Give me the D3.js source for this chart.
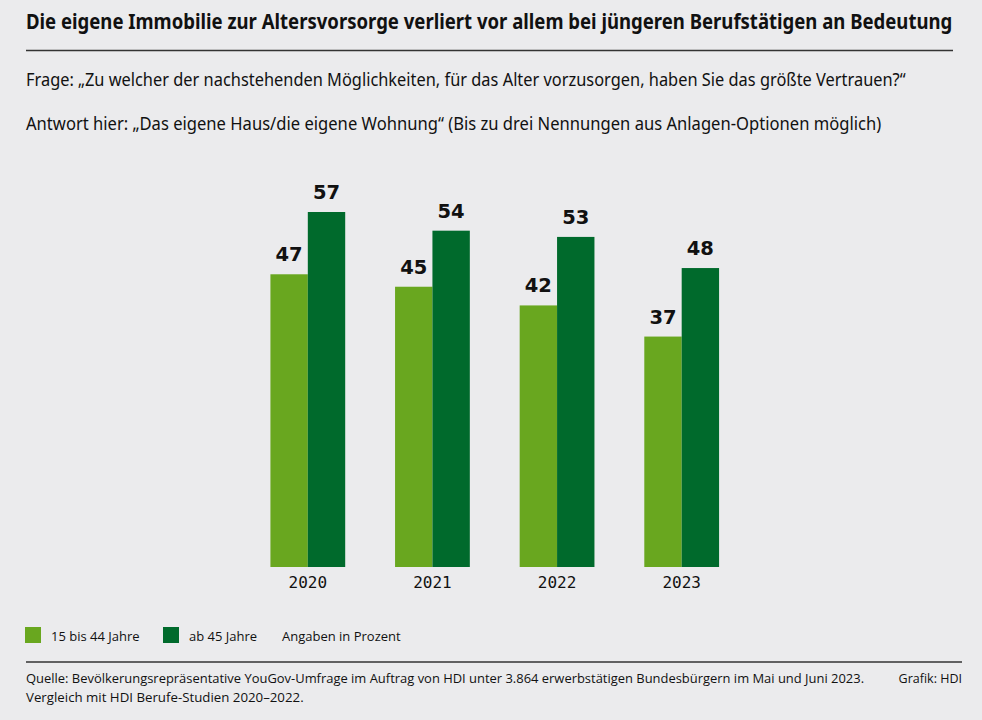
<!DOCTYPE html>
<html><head><meta charset="utf-8">
<script src="https://cdn.jsdelivr.net/npm/d3@7"></script>
<style>
html,body{margin:0;padding:0;background:#ebebed;}
svg{display:block;}
</style></head>
<body>
<script>
const years = ["2020","2021","2022","2023"];
const seriesNames = ["15 bis 44 Jahre","ab 45 Jahre"];
const young = [47,45,42,37];
const old = [57,54,53,48];
const colors = ["#69a71f","#006a2c"];
const title = "Die eigene Immobilie zur Altersvorsorge verliert vor allem bei jüngeren Berufstätigen an Bedeutung";
const question = "Frage: „Zu welcher der nachstehenden Möglichkeiten, für das Alter vorzusorgen, haben Sie das größte Vertrauen?“";
const answer = "Antwort hier: „Das eigene Haus/die eigene Wohnung“ (Bis zu drei Nennungen aus Anlagen-Optionen möglich)";
const note = "Angaben in Prozent";
const source1 = "Quelle: Bevölkerungsrepräsentative YouGov-Umfrage im Auftrag von HDI unter 3.864 erwerbstätigen Bundesbürgern im Mai und Juni 2023.";
const source2 = "Vergleich mit HDI Berufe-Studien 2020–2022.";
const credit = "Grafik: HDI";

const W = 982, H = 720;
const svg = d3.select("body").append("svg").attr("width", W).attr("height", H);
svg.append("rect").attr("width", W).attr("height", H).attr("fill", "#ebebed");

const narrow = "'Liberation Sans Narrow', 'Noto Sans', sans-serif";
const sans = "'Open Sans', 'Noto Sans', sans-serif";

function fitText(sel, target) {
  const n = sel.node();
  const fs = parseFloat(sel.attr("font-size"));
  const w = n.getComputedTextLength();
  if (w > 0) sel.attr("font-size", (fs * target / w).toFixed(2));
}
// condensed text: draw at natural size, then scale horizontally to the target width
function condensed(x, yPos, str, size, weight, target) {
  const g = svg.append("g");
  const tx = g.append("text").attr("x", 0).attr("y", 0).attr("font-family", narrow)
    .attr("font-weight", weight).attr("font-size", size).attr("fill", "#111").text(str);
  const w = tx.node().getComputedTextLength();
  const k = Math.min(1, target / w);
  g.attr("transform", `translate(${x},${yPos}) scale(${k.toFixed(4)},1)`);
  return tx;
}

condensed(26, 29, title, 20.5, "bold", 927);
svg.append("line").attr("x1", 26).attr("x2", 953).attr("y1", 50.5).attr("y2", 50.5)
  .attr("stroke", "#333").attr("stroke-width", 1.3);
condensed(26, 86, question, 18.5, "normal", 880);
condensed(26, 130, answer, 18.5, "normal", 856);

// chart
const x0 = d3.scaleBand().domain(years).range([245.5, 744]).paddingInner(0.4).paddingOuter(0.2);
const x1 = d3.scaleBand().domain(seriesNames).range([0, x0.bandwidth()]);
const y = d3.scaleLinear().domain([0, 57]).range([567, 212]);

const data = years.map((yr, i) => ({year: yr, vals: [young[i], old[i]]}));
const g = svg.append("g");
const grp = g.selectAll("g.yr").data(data).join("g").attr("class", "yr")
  .attr("transform", d => `translate(${x0(d.year)},0)`);
grp.selectAll("rect").data(d => d.vals.map((v, k) => ({v, k})))
  .join("rect")
  .attr("x", d => x1(seriesNames[d.k]))
  .attr("width", x1.bandwidth())
  .attr("y", d => y(d.v))
  .attr("height", d => y(0) - y(d.v))
  .attr("fill", d => colors[d.k]);
grp.selectAll("text.val").data(d => d.vals.map((v, k) => ({v, k})))
  .join("text").attr("class", "val")
  .attr("x", d => x1(seriesNames[d.k]) + x1.bandwidth() / 2)
  .attr("y", d => y(d.v) - 13)
  .attr("text-anchor", "middle")
  .attr("font-family", "'DejaVu Sans', sans-serif").attr("font-weight", "bold")
  .attr("font-size", 19.5).attr("fill", "#111").text(d => d.v);

const xAxis = d3.axisBottom(x0).tickSize(0).tickPadding(10);
const ax = svg.append("g").attr("transform", "translate(0,567)").call(xAxis);
ax.select(".domain").remove();
ax.selectAll("text").attr("font-family", "'DejaVu Sans Mono', monospace")
  .attr("font-size", 16).attr("fill", "#111");

// legend
const leg = svg.append("g");
const legX = [25, 163];
seriesNames.forEach((s, i) => {
  leg.append("rect").attr("x", legX[i]).attr("y", 627).attr("width", 16).attr("height", 16).attr("fill", colors[i]);
  leg.append("text").attr("x", legX[i] + 26).attr("y", 641).attr("font-family", sans)
    .attr("font-size", 13).attr("fill", "#111").text(s);
});
leg.append("text").attr("x", 282).attr("y", 641).attr("font-family", sans)
  .attr("font-size", 13).attr("fill", "#111").text(note);

svg.append("line").attr("x1", 26).attr("x2", 962).attr("y1", 662).attr("y2", 662)
  .attr("stroke", "#333").attr("stroke-width", 1.3);
const s1 = svg.append("text").attr("x", 26).attr("y", 683).attr("font-family", sans)
  .attr("font-size", 12.5).attr("fill", "#111").text(source1);
fitText(s1, 838);
const s2 = svg.append("text").attr("x", 26).attr("y", 702).attr("font-family", sans)
  .attr("font-size", 12.5).attr("fill", "#111").text(source2);
fitText(s2, 278);
svg.append("text").attr("x", 962).attr("y", 683).attr("text-anchor", "end").attr("font-family", sans)
  .attr("font-size", 12.5).attr("fill", "#111").text(credit);
</script>
</body></html>
